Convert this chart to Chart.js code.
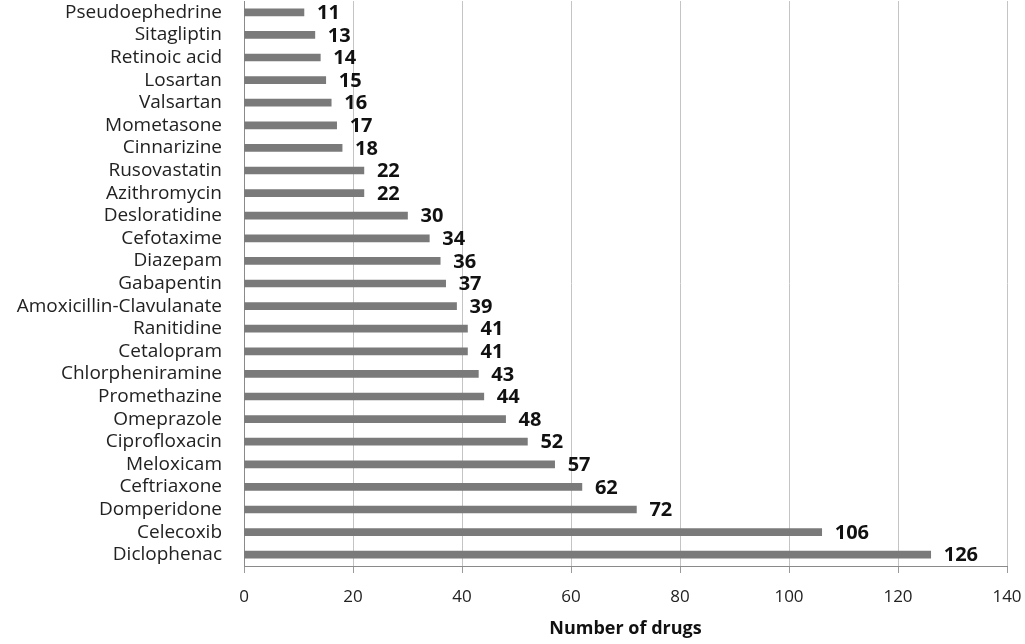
<!DOCTYPE html>
<html>
<head>
<meta charset="utf-8">
<script src="https://cdn.jsdelivr.net/npm/chart.js@4"></script>
<style>
  html, body { margin: 0; padding: 0; background: #fff; overflow: hidden; }
  #wrap { width: 1025px; height: 644px; }
</style>
</head>
<body>
<div id="wrap"><canvas id="drugChart"></canvas></div>
<script>
const drugs = ['Pseudoephedrine', 'Sitagliptin', 'Retinoic acid', 'Losartan', 'Valsartan',
  'Mometasone', 'Cinnarizine', 'Rusovastatin', 'Azithromycin', 'Desloratidine',
  'Cefotaxime', 'Diazepam', 'Gabapentin', 'Amoxicillin-Clavulanate', 'Ranitidine',
  'Cetalopram', 'Chlorpheniramine', 'Promethazine', 'Omeprazole', 'Ciprofloxacin',
  'Meloxicam', 'Ceftriaxone', 'Domperidone', 'Celecoxib', 'Diclophenac'];
const counts = [11, 13, 14, 15, 16, 17, 18, 22, 22, 30, 34, 36, 37, 39, 41, 41, 43, 44, 48, 52, 57, 62, 72, 106, 126];
const xMin = 0, xMax = 140, xStep = 20;

// value labels at the end of each bar
const barLabels = {
  id: 'barLabels',
  afterDatasetsDraw(chart) {
    const ctx = chart.ctx;
    const meta = chart.getDatasetMeta(0);
    ctx.save();
    ctx.font = 'bold 20px "Open Sans"';
    ctx.fillStyle = '#111';
    ctx.textAlign = 'left';
    ctx.textBaseline = 'middle';
    meta.data.forEach((bar, i) => {
      ctx.fillText(counts[i], bar.x + 13, bar.y + 1);
    });
    ctx.restore();
  }
};

new Chart(document.getElementById('drugChart'), {
  type: 'bar',
  data: {
    labels: drugs,
    datasets: [{
      data: counts,
      backgroundColor: '#7a7a7a',
      barThickness: 7
    }]
  },
  options: {
    indexAxis: 'y',
    responsive: true,
    maintainAspectRatio: false,
    animation: false,
    layout: { padding: { top: 1, right: 18, bottom: 0, left: 0 } },
    plugins: { legend: { display: false }, tooltip: { enabled: false } },
    scales: {
      x: {
        min: xMin, max: xMax,
        ticks: { stepSize: xStep, color: '#222', padding: 14, maxRotation: 0, font: { family: 'Open Sans', size: 17 } },
        grid: { color: '#c4c4c4', tickColor: '#9a9a9a', tickLength: 7 },
        border: { color: '#8a8a8a' },
        title: { display: true, text: 'Number of drugs', color: '#111', font: { family: 'Open Sans', size: 18, weight: 'bold' } },
        afterFit(scale) { scale.height = 78; scale.paddingLeft = 0; scale.paddingRight = 0; }
      },
      y: {
        ticks: { color: '#222', padding: 22, autoSkip: false, font: { family: 'Open Sans', size: 19 } },
        grid: { drawOnChartArea: false, drawTicks: false },
        border: { color: '#8a8a8a' },
        afterFit(scale) { scale.width = 244; scale.paddingTop = 0; scale.paddingBottom = 0; }
      }
    }
  },
  plugins: [barLabels]
});
</script>
</body>
</html>
